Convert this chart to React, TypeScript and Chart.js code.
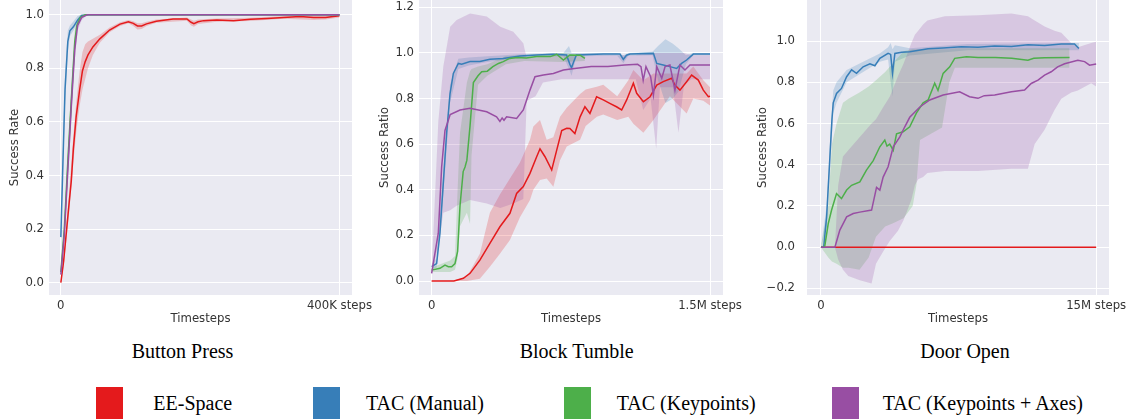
import React, { useEffect, useRef } from "react";
import { Chart, registerables } from "chart.js";

Chart.register(...registerables);

type P = [number, number];
type B = [number, number, number];

// ---------- legend / series ----------
const seriesNames = ["EE-Space", "TAC (Manual)", "TAC (Keypoints)", "TAC (Keypoints + Axes)"];
const seriesRgb = ["228,26,28", "55,126,184", "77,175,74", "152,78,163"];

// ---------- Button Press (x in thousands of steps) ----------
const bpXTicks = [0, 400];
const bpXLabels = ["0", "400K steps"];
const bpYTicks = [0, 0.2, 0.4, 0.6, 0.8, 1.0];

const bpRedLine: P[] = [[0,0],[4,0.08],[8,0.19],[12,0.3],[15,0.38],[18,0.5],[22,0.62],[27,0.72],[31,0.79],[35,0.825],[39,0.85],[46,0.88],[56,0.91],[70,0.943],[85,0.965],[97,0.974],[104,0.968],[110,0.958],[116,0.958],[123,0.966],[137,0.976],[161,0.984],[181,0.984],[187,0.972],[191,0.967],[197,0.974],[205,0.978],[224,0.98],[248,0.978],[272,0.983],[296,0.986],[320,0.99],[343,0.993],[363,0.99],[380,0.99],[391,0.993],[400,0.996]];
const bpRedBand: B[] = [[0,0,0],[4,0.06,0.1],[8,0.16,0.22],[12,0.26,0.34],[18,0.45,0.55],[22,0.56,0.67],[27,0.66,0.79],[31,0.72,0.86],[35,0.76,0.89],[39,0.8,0.9],[46,0.85,0.91],[56,0.895,0.925],[70,0.935,0.952],[85,0.958,0.972],[97,0.968,0.98],[104,0.958,0.976],[110,0.945,0.968],[116,0.947,0.968],[123,0.958,0.974],[137,0.97,0.982],[181,0.978,0.99],[187,0.96,0.982],[191,0.955,0.978],[197,0.965,0.982],[224,0.974,0.986],[272,0.977,0.989],[320,0.985,0.995],[363,0.98,0.997],[380,0.982,0.996],[400,0.99,1.0]];
const bpBlueLine: P[] = [[0,0.17],[3,0.45],[6,0.72],[10,0.9],[13,0.94],[18,0.955],[24,0.98],[30,0.997],[40,1.0],[400,1.0]];
const bpBlueBand: B[] = [[0,0.16,0.18],[3,0.4,0.5],[6,0.66,0.78],[10,0.86,0.94],[13,0.92,0.96],[18,0.94,0.975],[24,0.97,0.995],[30,0.99,1.0],[40,1.0,1.0],[400,1.0,1.0]];
const bpGreenLine: P[] = [[0,0.04],[5,0.2],[10,0.45],[15,0.68],[20,0.9],[23,0.96],[28,0.99],[35,1.0],[400,1.0]];
const bpGreenBand: B[] = [[0,0.03,0.05],[5,0.17,0.23],[10,0.4,0.5],[15,0.62,0.74],[20,0.86,0.94],[23,0.94,0.98],[28,0.98,1.0],[35,1,1],[400,1,1]];
const bpPurpleLine: P[] = [[0,0.03],[5,0.18],[10,0.42],[15,0.66],[20,0.87],[24,0.96],[30,0.99],[38,1.0],[400,1.0]];
const bpPurpleBand: B[] = [[0,0.02,0.04],[5,0.15,0.21],[10,0.37,0.47],[15,0.6,0.72],[20,0.83,0.91],[24,0.94,0.98],[30,0.98,1.0],[38,1,1],[400,1,1]];

// ---------- Block Tumble (x in millions of steps) ----------
const btXTicks = [0, 1.5];
const btXLabels = ["0", "1.5M steps"];
const btYTicks = [0, 0.2, 0.4, 0.6, 0.8, 1.0, 1.2];

const btRedLine: P[] = [[0,0],[0.12,0],[0.171,0.012],[0.207,0.034],[0.26,0.092],[0.314,0.165],[0.368,0.238],[0.422,0.297],[0.458,0.384],[0.494,0.414],[0.53,0.472],[0.566,0.545],[0.584,0.58],[0.611,0.545],[0.647,0.487],[0.674,0.574],[0.701,0.66],[0.728,0.67],[0.745,0.669],[0.772,0.647],[0.8,0.72],[0.826,0.764],[0.853,0.735],[0.889,0.808],[0.925,0.794],[0.96,0.779],[0.996,0.764],[1.024,0.75],[1.051,0.794],[1.087,0.867],[1.105,0.823],[1.141,0.786],[1.177,0.808],[1.213,0.859],[1.248,0.874],[1.293,0.889],[1.311,0.859],[1.338,0.837],[1.374,0.874],[1.401,0.903],[1.437,0.881],[1.464,0.837],[1.491,0.808],[1.5,0.81]];
const btRedBand: B[] = [[0,0,0],[0.12,0,0.003],[0.19,0,0.02],[0.26,0.01,0.12],[0.314,0.063,0.3],[0.368,0.12,0.38],[0.422,0.18,0.45],[0.476,0.28,0.52],[0.53,0.355,0.62],[0.548,0.4,0.677],[0.584,0.443,0.706],[0.62,0.45,0.62],[0.656,0.414,0.63],[0.692,0.53,0.72],[0.728,0.59,0.76],[0.8,0.62,0.82],[0.83,0.68,0.84],[0.89,0.72,0.852],[0.925,0.73,0.86],[1.0,0.706,0.81],[1.06,0.72,0.88],[1.087,0.69,0.925],[1.141,0.65,0.88],[1.195,0.706,0.91],[1.284,0.81,0.91],[1.374,0.735,0.91],[1.41,0.8,0.94],[1.464,0.79,0.88],[1.5,0.77,0.85]];
const btBlueLine: P[] = [[0,0.063],[0.027,0.077],[0.045,0.21],[0.063,0.43],[0.081,0.65],[0.099,0.82],[0.117,0.91],[0.144,0.954],[0.162,0.951],[0.207,0.962],[0.26,0.962],[0.314,0.972],[0.386,0.976],[0.476,0.987],[0.566,0.991],[0.656,0.994],[0.727,0.991],[0.745,0.95],[0.754,0.935],[0.765,0.96],[0.78,0.991],[0.925,0.995],[1.015,0.995],[1.033,0.972],[1.05,0.99],[1.069,0.995],[1.195,0.998],[1.213,0.954],[1.248,0.947],[1.284,0.94],[1.32,0.932],[1.347,0.954],[1.374,0.969],[1.41,0.995],[1.5,0.995]];
const btBlueBand: B[] = [[0,0.05,0.075],[0.027,0.06,0.1],[0.063,0.38,0.48],[0.099,0.78,0.86],[0.144,0.93,0.975],[0.2,0.945,0.98],[0.3,0.96,0.985],[0.5,0.98,0.995],[0.71,0.985,1.0],[0.74,0.93,1.03],[0.754,0.9,1.0],[0.78,0.985,1.0],[1.0,0.988,1.0],[1.033,0.955,0.99],[1.06,0.988,1.0],[1.19,0.99,1.005],[1.22,0.88,1.03],[1.26,0.78,1.06],[1.3,0.8,1.04],[1.33,0.83,1.02],[1.37,0.95,0.99],[1.41,0.99,1.0],[1.5,0.99,1.0]];
const btGreenLine: P[] = [[0,0.048],[0.045,0.056],[0.072,0.07],[0.09,0.063],[0.108,0.063],[0.126,0.077],[0.14,0.13],[0.153,0.33],[0.17,0.48],[0.18,0.5],[0.19,0.53],[0.207,0.68],[0.225,0.87],[0.25,0.9],[0.27,0.918],[0.3,0.92],[0.33,0.94],[0.36,0.954],[0.386,0.962],[0.42,0.976],[0.46,0.98],[0.51,0.978],[0.566,0.984],[0.64,0.984],[0.674,0.994],[0.71,0.969],[0.745,0.991],[0.8,0.99],[0.826,0.976]];
const btGreenBand: B[] = [[0,0.04,0.06],[0.1,0.04,0.09],[0.126,0.05,0.11],[0.14,0.1,0.4],[0.153,0.24,0.65],[0.19,0.3,0.87],[0.207,0.25,0.92],[0.215,0.55,0.93],[0.25,0.86,0.94],[0.3,0.9,0.95],[0.4,0.95,0.985],[0.5,0.965,0.99],[0.7,0.96,1.0],[0.826,0.965,0.99]];
const btPurpleLine: P[] = [[0,0.034],[0.036,0.21],[0.054,0.5],[0.072,0.66],[0.1,0.73],[0.153,0.75],[0.207,0.757],[0.297,0.742],[0.35,0.72],[0.368,0.7],[0.38,0.715],[0.39,0.705],[0.404,0.72],[0.458,0.713],[0.494,0.75],[0.53,0.837],[0.557,0.896],[0.602,0.903],[0.656,0.91],[0.71,0.925],[0.77,0.932],[0.86,0.94],[0.95,0.94],[1.04,0.947],[1.11,0.95],[1.128,0.94],[1.14,0.88],[1.155,0.94],[1.18,0.896],[1.195,0.815],[1.213,0.94],[1.24,0.889],[1.258,0.94],[1.284,0.947],[1.311,0.837],[1.338,0.947],[1.365,0.925],[1.392,0.947],[1.5,0.947]];
const btPurpleBand: B[] = [[0,0.03,0.04],[0.036,0.15,0.7],[0.063,0.3,0.94],[0.1,0.31,1.115],[0.135,0.33,1.144],[0.207,0.355,1.173],[0.297,0.34,1.16],[0.37,0.32,1.115],[0.44,0.34,1.093],[0.494,0.36,1.042],[0.5,0.5,1.02],[0.512,0.79,0.98],[0.56,0.81,0.98],[0.6,0.87,0.985],[0.7,0.885,0.99],[1.1,0.885,0.99],[1.14,0.75,1.0],[1.18,0.8,1.0],[1.21,0.58,1.0],[1.23,0.85,1.0],[1.3,0.85,1.0],[1.33,0.65,1.0],[1.36,0.86,1.0],[1.4,0.885,0.99],[1.5,0.885,0.99]];

// ---------- Door Open (x in millions of steps) ----------
const doXTicks = [0, 15];
const doXLabels = ["0", "15M steps"];
const doYTicks = [-0.2, 0, 0.2, 0.4, 0.6, 0.8, 1.0];

const doRedLine: P[] = [[0,0],[15,0]];
const doBlueLine: P[] = [[0,0],[0.15,0],[0.31,0.147],[0.49,0.44],[0.6,0.62],[0.67,0.7],[0.85,0.746],[1.12,0.77],[1.4,0.827],[1.67,0.86],[1.94,0.843],[2.3,0.875],[2.67,0.89],[2.94,0.88],[3.21,0.916],[3.66,0.94],[3.8,0.935],[3.9,0.843],[4.03,0.94],[4.4,0.945],[4.84,0.948],[5.84,0.962],[6.66,0.966],[7.65,0.972],[8.56,0.97],[9.47,0.976],[10.38,0.974],[11.28,0.982],[12.19,0.978],[13.1,0.986],[13.82,0.986],[14.06,0.964]];
const doBlueBand: B[] = [[0,0,0],[0.31,0.1,0.2],[0.49,0.38,0.5],[0.67,0.65,0.76],[0.85,0.7,0.8],[1.4,0.8,0.86],[2.3,0.85,0.9],[3.21,0.9,0.94],[3.66,0.91,0.97],[3.8,0.8,0.99],[3.9,0.73,0.96],[4.03,0.9,0.98],[4.84,0.93,0.965],[8,0.955,0.985],[14.06,0.955,0.99]];
const doGreenLine: P[] = [[0,0],[0.2,0],[0.4,0.115],[0.58,0.18],[0.85,0.26],[1.12,0.236],[1.4,0.277],[1.67,0.3],[2.12,0.317],[2.48,0.374],[2.85,0.42],[3.21,0.487],[3.48,0.52],[3.6,0.49],[3.75,0.5],[3.94,0.47],[4.12,0.55],[4.48,0.56],[4.84,0.584],[5.2,0.65],[5.57,0.7],[5.84,0.714],[6.2,0.795],[6.38,0.76],[6.66,0.843],[7.02,0.875],[7.29,0.916],[7.93,0.924],[8.56,0.92],[9.5,0.92],[10.4,0.916],[11.28,0.907],[11.6,0.916],[12.19,0.919],[13.55,0.92]];
const doGreenBand: B[] = [[0,0,0],[0.4,-0.05,0.2],[0.6,-0.07,0.5],[0.85,-0.08,0.6],[1.2,-0.1,0.7],[1.5,-0.1,0.72],[2.1,-0.11,0.75],[2.6,-0.05,0.78],[3.0,0.05,0.81],[3.5,0.1,0.85],[3.9,0.115,0.89],[4.5,0.14,0.95],[5.0,0.2,0.96],[5.2,0.3,0.96],[5.4,0.52,0.96],[6.0,0.55,0.96],[6.6,0.58,0.96],[7.0,0.8,0.96],[7.3,0.87,0.965],[13.55,0.87,0.965]];
const doPurpleLine: P[] = [[0,0],[0.76,0],[1.03,0.083],[1.4,0.147],[1.76,0.163],[2.12,0.17],[2.76,0.18],[3.03,0.29],[3.21,0.277],[3.39,0.34],[3.66,0.39],[3.94,0.487],[4.3,0.535],[4.57,0.584],[4.84,0.63],[5.39,0.68],[5.93,0.714],[6.66,0.738],[7.56,0.754],[8.1,0.73],[8.56,0.722],[8.9,0.735],[9.47,0.738],[10.38,0.754],[11.1,0.762],[11.46,0.794],[11.83,0.81],[12.19,0.835],[12.55,0.851],[12.9,0.875],[13.28,0.89],[14.0,0.907],[14.37,0.9],[14.64,0.883],[15,0.888]];
const doPurpleBand: B[] = [[0,0,0],[0.76,0,0],[0.94,-0.06,0.3],[1.2,-0.11,0.44],[1.49,-0.14,0.47],[2.12,-0.16,0.535],[2.76,-0.176,0.6],[3.0,-0.08,0.62],[3.4,-0.02,0.68],[3.75,0.03,0.73],[4.2,0.08,0.83],[4.5,0.13,0.89],[4.93,0.23,0.99],[5.12,0.3,1.03],[5.3,0.33,1.05],[5.57,0.34,1.08],[5.8,0.36,1.1],[6.75,0.37,1.12],[8.56,0.37,1.125],[10.38,0.38,1.134],[11.28,0.38,1.12],[11.65,0.5,1.1],[12.19,0.57,1.07],[12.73,0.665,1.05],[13.1,0.72,1.04],[13.64,0.75,0.99],[14.0,0.76,0.97],[14.73,0.795,0.99],[15.0,0.78,0.997]];

const panelTitles = ["Button Press", "Block Tumble", "Door Open"];

// ---------- chart helpers ----------
type Series = { line: P[]; band?: B[]; color: number };
type Spec = {
  series: Series[];
  xMin: number; xMax: number; yMin: number; yMax: number;
  xTicks: number[]; xLabels: string[]; yTicks: number[];
  yTitle: string; yWidth: number; yPad: number; padRight: number;
  left: number; width: number;
};

const TEXT = "#333333";
const tickFont = { family: "'DejaVu Sans', sans-serif", size: 11.7 };

const plotBg = {
  id: "plotBg",
  beforeDraw(chart: any) {
    const { ctx, chartArea: a } = chart;
    ctx.save();
    ctx.fillStyle = "#EAEAF2";
    ctx.fillRect(a.left, a.top, a.right - a.left, a.bottom - a.top);
    ctx.restore();
  },
};

function buildDatasets(series: Series[]) {
  const ds: any[] = [];
  series.forEach((s) => {
    const rgb = seriesRgb[s.color];
    const lineOrder = 3 - s.color;
    if (s.band) {
      ds.push({
        data: s.band.map(([x, lo]) => ({ x, y: lo })),
        borderWidth: 0, pointRadius: 0, fill: false,
        borderColor: "transparent", backgroundColor: "transparent",
        order: 10 + lineOrder,
      });
      ds.push({
        data: s.band.map(([x, , hi]) => ({ x, y: hi })),
        borderWidth: 0, pointRadius: 0, fill: "-1",
        borderColor: "transparent", backgroundColor: `rgba(${rgb},0.22)`,
        order: 10 + lineOrder,
      });
    }
    ds.push({
      data: s.line.map(([x, y]) => ({ x, y })),
      borderColor: `rgb(${rgb})`, borderWidth: 1.5, pointRadius: 0,
      fill: false, tension: 0, order: lineOrder,
    });
  });
  return ds;
}

function fmtY(v: number) {
  const s = Math.abs(v).toFixed(1);
  return v < -1e-9 ? "\u2212" + s : s;
}

function Panel({ spec }: { spec: Spec }) {
  const ref = useRef<HTMLCanvasElement>(null);
  useEffect(() => {
    const chart = new Chart(ref.current as HTMLCanvasElement, {
      type: "line",
      data: { datasets: buildDatasets(spec.series) },
      plugins: [plotBg],
      options: {
        animation: false,
        responsive: false,
        events: [],
        layout: { padding: { left: 0, top: 0, bottom: 0, right: spec.padRight } },
        plugins: { legend: { display: false }, tooltip: { enabled: false } },
        scales: {
          x: {
            type: "linear",
            min: spec.xMin, max: spec.xMax, bounds: "data",
            border: { display: false },
            grid: { color: "#ffffff", lineWidth: 1, drawTicks: false },
            ticks: {
              padding: 4, color: TEXT, font: tickFont, autoSkip: false, maxRotation: 0,
              callback: (_v: any, i: number) => spec.xLabels[i] ?? "",
            },
            afterBuildTicks: (s: any) => { s.ticks = spec.xTicks.map((value) => ({ value })); },
            afterFit: (s: any) => { s.height = 35; s.paddingLeft = 0; s.paddingRight = 0; },
            title: { display: true, text: "Timesteps", color: TEXT, font: tickFont, padding: { top: 0, bottom: 4 } },
          },
          y: {
            type: "linear",
            min: spec.yMin, max: spec.yMax, bounds: "data",
            border: { display: false },
            grid: { color: "#ffffff", lineWidth: 1, drawTicks: false },
            ticks: {
              padding: spec.yPad, color: TEXT, font: tickFont, autoSkip: false,
              callback: (v: any) => fmtY(Number(v)),
            },
            afterBuildTicks: (s: any) => { s.ticks = spec.yTicks.map((value) => ({ value })); },
            afterFit: (s: any) => { s.width = spec.yWidth; s.paddingTop = 0; s.paddingBottom = 0; },
            title: { display: true, text: spec.yTitle, color: TEXT, font: tickFont, padding: { top: 8, bottom: 0 } },
          },
        },
      } as any,
    });
    return () => chart.destroy();
  }, []);
  return (
    <canvas
      ref={ref}
      width={spec.width}
      height={330}
      style={{ position: "absolute", left: spec.left, top: 0, width: spec.width, height: 330 }}
    />
  );
}

const specs: Spec[] = [
  {
    series: [
      { line: bpRedLine, band: bpRedBand, color: 0 },
      { line: bpBlueLine, band: bpBlueBand, color: 1 },
      { line: bpGreenLine, band: bpGreenBand, color: 2 },
      { line: bpPurpleLine, band: bpPurpleBand, color: 3 },
    ],
    xMin: -17, xMax: 418, yMin: -0.046, yMax: 1.055,
    xTicks: bpXTicks, xLabels: bpXLabels, yTicks: bpYTicks,
    yTitle: "Success Rate", yWidth: 49, yPad: 5, padRight: 28, left: 0, width: 380,
  },
  {
    series: [
      { line: btRedLine, band: btRedBand, color: 0 },
      { line: btBlueLine, band: btBlueBand, color: 1 },
      { line: btGreenLine, band: btGreenBand, color: 2 },
      { line: btPurpleLine, band: btPurpleBand, color: 3 },
    ],
    xMin: -0.068, xMax: 1.57, yMin: -0.061, yMax: 1.232,
    xTicks: btXTicks, xLabels: btXLabels, yTicks: btYTicks,
    yTitle: "Success Ratio", yWidth: 49, yPad: 5, padRight: 27, left: 370, width: 380,
  },
  {
    series: [
      { line: doRedLine, color: 0 },
      { line: doBlueLine, band: doBlueBand, color: 1 },
      { line: doGreenLine, band: doGreenBand, color: 2 },
      { line: doPurpleLine, band: doPurpleBand, color: 3 },
    ],
    xMin: -0.76, xMax: 15.7, yMin: -0.232, yMax: 1.199,
    xTicks: doXTicks, xLabels: doXLabels, yTicks: doYTicks,
    yTitle: "Success Ratio", yWidth: 59, yPad: 12, padRight: 20, left: 748, width: 381,
  },
];

const titleCenters = [182.5, 576.7, 965];
const squareLefts = [96, 313.3, 564, 831.7];
const labelLefts = [153.3, 366, 616.7, 882.7];
const serif = "'Liberation Serif', 'Times New Roman', serif";

export default function App() {
  return (
    <div
      style={{
        position: "absolute", left: 0, top: 0, width: 1129, height: 419,
        overflow: "hidden", background: "#ffffff",
      }}
    >
      {specs.map((s, i) => (
        <Panel key={i} spec={s} />
      ))}
      {panelTitles.map((t, i) => (
        <div
          key={t}
          style={{
            position: "absolute", left: titleCenters[i] - 100, width: 200, top: 341,
            textAlign: "center", fontFamily: serif, fontSize: 20, lineHeight: "20px",
            color: "#000", whiteSpace: "nowrap",
          }}
        >
          {t}
        </div>
      ))}
      {seriesNames.map((n, i) => (
        <React.Fragment key={n}>
          <div
            style={{
              position: "absolute", left: squareLefts[i], top: 387, width: 27, height: 34,
              background: `rgb(${seriesRgb[i]})`,
            }}
          />
          <div
            style={{
              position: "absolute", left: labelLefts[i], top: 393, fontFamily: serif,
              fontSize: 20, lineHeight: "20px", color: "#000", whiteSpace: "nowrap",
            }}
          >
            {n}
          </div>
        </React.Fragment>
      ))}
    </div>
  );
}
